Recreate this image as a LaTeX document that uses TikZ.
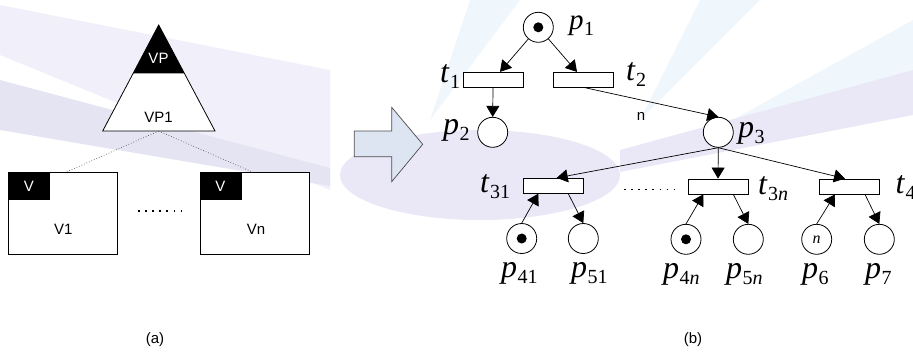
\documentclass[tikz,border=0pt]{standalone}
\usepackage{fontspec}
\setmainfont{Liberation Serif}
\newfontfamily\arialf{Liberation Sans}
\usetikzlibrary{arrows.meta}
\definecolor{arrowfill}{RGB}{221,229,243}
\definecolor{washA}{RGB}{241,240,250}
\definecolor{washB}{RGB}{229,228,242}
\definecolor{washC}{RGB}{234,232,247}
\definecolor{washD}{RGB}{240,247,252}
\newcommand\lbl[2]{\textit{#1}\kern0.3pt\raisebox{-6.5pt}{\fontsize{20}{20}\selectfont #2}}
\tikzset{
  place/.style={circle,draw,line width=0.8pt,minimum size=30pt,inner sep=0pt,fill=white},
  trans/.style={rectangle,draw,line width=0.8pt,minimum width=60pt,minimum height=15pt,inner sep=0pt,fill=white},
  arc/.style={-{Triangle[length=11pt,width=13pt]},line width=0.7pt},
  lab/.style={font=\fontsize{32}{32}\selectfont,inner sep=0pt,anchor=base west},
  sans/.style={font=\arialf\fontsize{15}{15}\selectfont,inner sep=0pt},
  wsans/.style={sans,text=white},
  dotrow/.style={line width=1.5pt,dash pattern=on 1.5pt off 5.6pt},
  token/.style={fill=black}
}
\begin{document}
\begin{tikzpicture}[x=1pt,y=-1pt]
\useasboundingbox (0,0) rectangle (913,354);
% ---------------- background wash ----------------
\fill[washA] (0,5) -- (330,70) -- (330,190) -- (0,55) -- cycle;
\fill[washB] (0,80) -- (330,168) -- (330,186) -- (0,130) -- cycle;
\fill[washD] (430,120) -- (470,0) -- (520,0) -- cycle;
\fill[washD] (640,120) -- (700,0) -- (760,0) -- cycle;
\fill[washD] (660,160) -- (913,20) -- (913,70) -- cycle;
\fill[washC] (480,175) ellipse (140pt and 45pt);
\fill[washC] (620,150) -- (913,70) -- (913,115) -- (620,172) -- cycle;
% ---------------- (a) ----------------
\coordinate (apex) at (158.7,25);
\coordinate (bl) at (102.7,131);
\coordinate (br) at (215,131);
\fill[white] (apex) -- (bl) -- (br) -- cycle;
\fill[black] (apex) -- (133.2,73.3) -- (184.4,73.3) -- cycle;
\draw[line width=0.8pt] (apex) -- (bl) -- (br) -- cycle;
\node[wsans] (vp) at (158.5,58) {VP};
\node[sans] (vp1) at (158.5,117) {VP1};
\coordinate (tribase) at (158.7,131);
% boxes
\draw[line width=0.8pt,fill=white] (8.3,172.3) rectangle (117.7,254.3);
\fill[black] (8.3,172.3) rectangle (50,200);
\draw[line width=0.8pt,fill=white] (200,172.3) rectangle (309.3,254.3);
\fill[black] (200,172.3) rectangle (241.7,200);
\node[wsans] (v1h) at (29,186) {V};
\node[sans] (v1) at (63.3,229.5) {V1};
\node[wsans] (vnh) at (220.5,186) {V};
\node[sans] (vn) at (256,229.5) {Vn};
\coordinate (box1top) at (65.7,172.3);
\coordinate (box2top) at (253,172.3);
\draw[gray!70!black,dotted,line width=0.7pt] (tribase) -- (box1top);
\draw[gray!70!black,dotted,line width=0.7pt] (tribase) -- (box2top);
\coordinate (da1) at (138,211);
\coordinate (da2) at (183,211);
\draw[dotrow] (da1) -- (da2);
\node[sans] (capa) at (155,340) {(a)};
% ---------------- block arrow ----------------
\draw[draw=gray!60!black,line width=0.7pt,fill=arrowfill]
  (354.3,131) -- (391.7,131) -- (391.7,107.3) -- (422.7,144.3) -- (391.7,181.7) -- (391.7,156.7) -- (354.3,156.7) -- cycle;
% ---------------- (b) ----------------
\node[place] (p1) at (538.3,27.3) {};
\fill[token] (p1) circle (5pt);
\node[trans] (t1) at (493,79.8) {};
\node[trans] (t2) at (583.7,79.8) {};
\node[place] (p2) at (492.7,132.3) {};
\node[place] (p3) at (718.3,132.3) {};
\node[trans] (t31) at (553.3,185.8) {};
\node[trans] (t3n) at (718,186.5) {};
\node[trans] (t4) at (849.3,186.5) {};
\node[place] (p41) at (521.7,238.5) {};
\fill[token] (p41) circle (5pt);
\node[place] (p51) at (583.3,238.5) {};
\node[place] (p4n) at (686,239.3) {};
\fill[token] (p4n) circle (5pt);
\node[place] (p5n) at (748.3,239.3) {};
\node[place] (p6) at (816.7,239.3) {\fontsize{16}{16}\selectfont\textit{n}};
\node[place] (p7) at (879.3,239.3) {};
% arcs
\draw[arc] (p1) -- ([xshift=7pt]t1.north);
\draw[arc] (p1) -- ([xshift=-6.7pt]t2.north);
\draw[arc] (t1.south) -- (p2.north);
\draw[arc] ([xshift=1.3pt]t2.south) -- (p3.north);
\draw[arc] (p3.south) -- ([xshift=3.4pt]t31.north);
\draw[arc] (p3.south) -- (t3n.north);
\draw[arc] (p3.south) -- ([xshift=-4.3pt]t4.north);
\draw[arc] (p41.north) -- ([xshift=-15pt]t31.south);
\draw[arc] ([xshift=15pt]t31.south) -- (p51.north);
\draw[arc] (p4n.north) -- ([xshift=-14.7pt]t3n.south);
\draw[arc] ([xshift=15.3pt]t3n.south) -- (p5n.north);
\draw[arc] (p6.north) -- ([xshift=-14.3pt]t4.south);
\draw[arc] ([xshift=15.7pt]t4.south) -- (p7.north);
\node[sans] (nlab) at (641,116) {n};
\coordinate (db1) at (624,189.3);
\coordinate (db2) at (674,189.3);
\draw[dotrow] (db1) -- (db2);
% labels
\node[lab,font=\fontsize{29}{29}\selectfont] (lp1) at (569,29) {\lbl{p}{1}};
\node[lab] (lt1) at (440,82) {\lbl{t}{1}};
\node[lab] (lt2) at (626,80) {\lbl{t}{2}};
\node[lab] (lp2) at (443,134) {\lbl{p}{2}};
\node[lab] (lp3) at (738,137) {\lbl{p}{3}};
\node[lab] (lt31) at (480,192) {\lbl{t}{31}};
\node[lab] (lt3n) at (758,194) {\lbl{t}{3\textit{n}}};
\node[lab] (lt4) at (895.5,193) {\lbl{t}{4}};
\node[lab] (lp41) at (501,277) {\lbl{p}{41}};
\node[lab] (lp51) at (571,277) {\lbl{p}{51}};
\node[lab] (lp4n) at (663,278) {\lbl{p}{4\textit{n}}};
\node[lab] (lp5n) at (726,278) {\lbl{p}{5\textit{n}}};
\node[lab] (lp6) at (802,278) {\lbl{p}{6}};
\node[lab] (lp7) at (865,278) {\lbl{p}{7}};
\node[sans] (capb) at (693,340) {(b)};
\end{tikzpicture}
\end{document}
